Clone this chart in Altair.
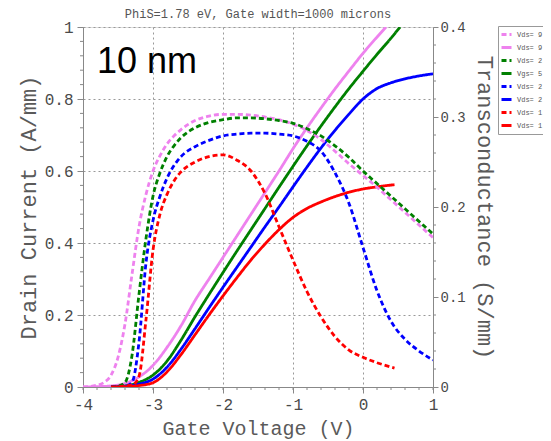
import altair as alt
import pandas as pd

# ---------------- data ----------------
# Drain current (left axis, A/mm) - solid lines
VG_ID_VIOLET = [-4.0, -3.8, -3.6, -3.4, -3.2, -3.0, -2.8, -2.6, -2.4, -2.2, -2.0, -1.8, -1.6, -1.4,
                -1.2, -1.0, -0.8, -0.6, -0.4, -0.2, 0.0, 0.2, 0.33]
ID_VIOLET = [0.0, 0.001, 0.003, 0.01, 0.028, 0.06, 0.11, 0.17, 0.24, 0.30, 0.36, 0.42, 0.48, 0.54,
             0.60, 0.662, 0.72, 0.775, 0.828, 0.878, 0.927, 0.972, 1.0]

VG_ID_GREEN = [-3.6, -3.4, -3.2, -3.0, -2.8, -2.6, -2.4, -2.2, -2.0, -1.8, -1.6, -1.4, -1.2, -1.0,
               -0.8, -0.6, -0.4, -0.2, 0.0, 0.2, 0.4, 0.53]
ID_GREEN = [0.0, 0.003, 0.013, 0.033, 0.072, 0.13, 0.195, 0.257, 0.318, 0.378, 0.437, 0.496, 0.555,
            0.613, 0.67, 0.725, 0.778, 0.829, 0.877, 0.924, 0.969, 1.0]

VG_ID_BLUE = [-3.6, -3.4, -3.2, -3.0, -2.8, -2.6, -2.4, -2.2, -2.0, -1.8, -1.6, -1.4, -1.2, -1.0,
              -0.8, -0.6, -0.4, -0.2, 0.0, 0.2, 0.4, 0.6, 0.8, 1.0]
ID_BLUE = [0.0, 0.002, 0.008, 0.022, 0.055, 0.105, 0.162, 0.22, 0.277, 0.333, 0.389, 0.445, 0.50,
           0.556, 0.611, 0.664, 0.713, 0.758, 0.80, 0.829, 0.845, 0.856, 0.864, 0.87]

VG_ID_RED = [-3.6, -3.4, -3.2, -3.0, -2.8, -2.6, -2.4, -2.2, -2.0, -1.8, -1.6, -1.4, -1.2, -1.0,
             -0.8, -0.6, -0.4, -0.2, 0.0, 0.2, 0.45]
ID_RED = [0.0, 0.001, 0.004, 0.012, 0.042, 0.09, 0.145, 0.2, 0.253, 0.304, 0.353, 0.397, 0.437,
          0.471, 0.496, 0.514, 0.529, 0.541, 0.55, 0.556, 0.562]

# Transconductance (right axis, S/mm) - dashed lines
VG_GM_VIOLET = [-4.0, -3.8, -3.7, -3.6, -3.5, -3.4, -3.3, -3.2, -3.1, -3.0, -2.9, -2.8, -2.7, -2.6,
                -2.4, -2.2, -2.0, -1.8, -1.6, -1.4, -1.2, -1.0, -0.8, -0.6, -0.4, -0.2, 0.0, 0.2,
                0.4, 0.6, 0.8, 1.0]
GM_VIOLET = [0.0, 0.002, 0.005, 0.013, 0.033, 0.07, 0.125, 0.178, 0.214, 0.24, 0.257, 0.27, 0.279,
             0.286, 0.296, 0.301, 0.303, 0.303, 0.302, 0.3, 0.297, 0.292, 0.285, 0.275, 0.262,
             0.248, 0.235, 0.222, 0.208, 0.194, 0.18, 0.166]

VG_GM_GREEN = [-3.6, -3.5, -3.4, -3.3, -3.2, -3.1, -3.0, -2.9, -2.8, -2.7, -2.6, -2.4, -2.2, -2.0,
               -1.8, -1.6, -1.4, -1.2, -1.0, -0.8, -0.6, -0.4, -0.2, 0.0, 0.2, 0.4, 0.6, 0.8, 1.0]
GM_GREEN = [0.0, 0.001, 0.005, 0.035, 0.103, 0.165, 0.212, 0.238, 0.256, 0.268, 0.277, 0.288,
            0.294, 0.297, 0.299, 0.299, 0.298, 0.296, 0.293, 0.287, 0.279, 0.268, 0.255, 0.24,
            0.226, 0.212, 0.198, 0.184, 0.17]

VG_GM_BLUE = [-3.6, -3.4, -3.3, -3.2, -3.1, -3.0, -2.9, -2.8, -2.7, -2.6, -2.4, -2.2, -2.0, -1.8,
              -1.6, -1.4, -1.2, -1.0, -0.8, -0.6, -0.4, -0.2, 0.0, 0.2, 0.4, 0.6, 0.8, 1.0]
GM_BLUE = [0.0, 0.001, 0.005, 0.05, 0.138, 0.185, 0.212, 0.232, 0.246, 0.256, 0.267, 0.274, 0.279,
           0.281, 0.282, 0.282, 0.281, 0.279, 0.273, 0.262, 0.238, 0.204, 0.155, 0.107, 0.073,
           0.053, 0.04, 0.03]

VG_GM_RED = [-3.6, -3.3, -3.2, -3.1, -3.0, -2.9, -2.8, -2.7, -2.6, -2.4, -2.2, -2.0, -1.8, -1.6,
             -1.4, -1.2, -1.0, -0.8, -0.6, -0.4, -0.2, 0.0, 0.2, 0.45]
GM_RED = [0.0, 0.002, 0.012, 0.075, 0.152, 0.192, 0.214, 0.229, 0.239, 0.25, 0.256, 0.258, 0.252,
          0.24, 0.215, 0.178, 0.141, 0.106, 0.078, 0.056, 0.041, 0.033, 0.027, 0.021]

# legend entries (key order = legend order)
SERIES_KEYS = ["1", "2", "3", "4", "5", "6", "7", "8"]
SERIES_LABELS = ["Vds= 9", "Vds= 9", "Vds= 2", "Vgs= 5", "Vds= 2", "Vds= 2", "Vds= 1", "Vds= 1"]
SERIES_COLORS = ["violet", "violet", "green", "green", "blue", "blue", "red", "red"]
SERIES_DASH = [[5, 3], [1, 0], [5, 3], [1, 0], [5, 3], [1, 0], [5, 3], [1, 0]]

# axis ticks
X_TICKS = [-4, -3, -2, -1, 0, 1]
X_MINOR = [-4.0, -3.8, -3.6, -3.4, -3.2, -3.0, -2.8, -2.6, -2.4, -2.2, -2.0, -1.8, -1.6, -1.4,
           -1.2, -1.0, -0.8, -0.6, -0.4, -0.2, 0.0, 0.2, 0.4, 0.6, 0.8, 1.0]
YL_TICKS = [0, 0.2, 0.4, 0.6, 0.8, 1.0]
YL_MINOR = [0.04, 0.08, 0.12, 0.16, 0.24, 0.28, 0.32, 0.36, 0.44, 0.48, 0.52, 0.56, 0.64, 0.68,
            0.72, 0.76, 0.84, 0.88, 0.92, 0.96]
YR_TICKS = [0, 0.1, 0.2, 0.3, 0.4]
YR_MINOR = [0.02, 0.04, 0.06, 0.08, 0.12, 0.14, 0.16, 0.18, 0.22, 0.24, 0.26, 0.28, 0.32, 0.34,
            0.36, 0.38]

TITLE_TEXT = "PhiS=1.78 eV, Gate width=1000 microns"
LABEL_TEXT = "10 nm"

# ---------------- tables ----------------
def frame(xs, ys, key, col):
    return pd.DataFrame({"Vg": xs, col: ys, "s": key})

solid_df = pd.concat([
    frame(VG_ID_VIOLET, ID_VIOLET, "2", "Id"),
    frame(VG_ID_GREEN, ID_GREEN, "4", "Id"),
    frame(VG_ID_BLUE, ID_BLUE, "6", "Id"),
    frame(VG_ID_RED, ID_RED, "8", "Id"),
], ignore_index=True)

dashed_df = pd.concat([
    frame(VG_GM_VIOLET, GM_VIOLET, "1", "gm"),
    frame(VG_GM_GREEN, GM_GREEN, "3", "gm"),
    frame(VG_GM_BLUE, GM_BLUE, "5", "gm"),
    frame(VG_GM_RED, GM_RED, "7", "gm"),
], ignore_index=True)

W, H = 350, 360
MONO = "Liberation Mono"
AX_COL = "#888888"

x_scale = alt.Scale(domain=[-4, 1], nice=False, zero=False)
yl_scale = alt.Scale(domain=[0, 1], nice=False, zero=False)
yr_scale = alt.Scale(domain=[0, 0.4], nice=False, zero=False)

label_expr = "[" + ",".join("'%s'" % s for s in SERIES_LABELS) + "][toNumber(datum.label) - 1]"
legend = alt.Legend(title=None, orient="none", legendX=415, legendY=-1,
                    symbolType="stroke", symbolSize=100, symbolStrokeWidth=3,
                    labelFont=MONO, labelFontSize=7, labelColor="#555555",
                    strokeColor="#999999", fillColor="white", padding=2,
                    rowPadding=0, labelOffset=4, labelExpr=label_expr)
color_enc = alt.Color("s:N", scale=alt.Scale(domain=SERIES_KEYS, range=SERIES_COLORS), legend=legend)
dash_enc = alt.StrokeDash("s:N", scale=alt.Scale(domain=SERIES_KEYS, range=SERIES_DASH), legend=legend)

common_axis = dict(labelFont=MONO, labelFontSize=16, labelColor="#4a4a4a", titleFont=MONO,
                   titleColor="#5a5a5a", titleFontWeight="normal", domainColor=AX_COL,
                   tickColor=AX_COL, labelFlush=False, labelOverlap=False, gridColor="#999999",
                   gridDash=[2, 3], gridOpacity=1)

x_axis = alt.Axis(values=X_TICKS, title="Gate Voltage (V)", titleFontSize=20, titlePadding=6,
                  tickSize=6, labelPadding=3, grid=True,
                  labelExpr="datum.value < 0 ? '-' + abs(datum.value) : '' + datum.value",
                  **common_axis)
yl_axis = alt.Axis(values=YL_TICKS, title="Drain Current (A/mm)", titleFontSize=22,
                   titlePadding=4, tickSize=6, labelPadding=4, grid=True, orient="left",
                   labelExpr="datum.value == 0 ? '0' : datum.value == 1 ? '1' : format(datum.value, '.1f')",
                   **common_axis)
yr_common = dict(common_axis)
yr_common["labelFontSize"] = 14
yr_axis = alt.Axis(values=YR_TICKS, title="Transconductance (S/mm)", titleFontSize=22,
                   titlePadding=7, tickSize=5, labelPadding=2, grid=False, orient="right",
                   labelExpr="datum.value == 0 ? '0' : format(datum.value, '.1f')",
                   **yr_common)

solid = alt.Chart(solid_df).mark_line(strokeWidth=2.8, interpolate="monotone", clip=True).encode(
    x=alt.X("Vg:Q", scale=x_scale, axis=x_axis),
    y=alt.Y("Id:Q", scale=yl_scale, axis=yl_axis),
    color=color_enc, strokeDash=dash_enc, detail="s:N",
)

dashed = alt.Chart(dashed_df).mark_line(strokeWidth=2.8, interpolate="monotone", clip=True).encode(
    x=alt.X("Vg:Q", scale=x_scale, axis=x_axis),
    y=alt.Y("gm:Q", scale=yr_scale, axis=yr_axis),
    color=color_enc, strokeDash=dash_enc, detail="s:N",
)

# minor ticks (same fields / scales / axes as the curves, so the axes merge)
x_minor = alt.Chart(pd.DataFrame({"Vg": X_MINOR})).mark_rule(color=AX_COL, strokeWidth=1).encode(
    x=alt.X("Vg:Q", scale=x_scale, axis=x_axis), y=alt.value(H), y2=alt.value(H + 3))
yl_minor = alt.Chart(pd.DataFrame({"Id": YL_MINOR})).mark_rule(color=AX_COL, strokeWidth=1).encode(
    y=alt.Y("Id:Q", scale=yl_scale, axis=yl_axis), x=alt.value(0), x2=alt.value(-3))
yr_minor = alt.Chart(pd.DataFrame({"gm": YR_MINOR})).mark_rule(color=AX_COL, strokeWidth=1).encode(
    y=alt.Y("gm:Q", scale=yr_scale, axis=yr_axis), x=alt.value(W), x2=alt.value(W + 3))

top_title = alt.Chart(pd.DataFrame({"t": [TITLE_TEXT]})).mark_text(
    font=MONO, fontSize=12, color="#555555", align="center", baseline="alphabetic").encode(
    text="t:N", x=alt.value(W / 2), y=alt.value(-9))
big_label = alt.Chart(pd.DataFrame({"t": [LABEL_TEXT]})).mark_text(
    font="Liberation Sans", fontSize=36, color="black", align="left", baseline="alphabetic").encode(
    text="t:N", x=alt.value(14), y=alt.value(46))

left_layer = alt.layer(solid, x_minor, yl_minor, top_title, big_label)
right_layer = alt.layer(dashed, yr_minor)

chart = alt.layer(left_layer, right_layer).resolve_scale(y="independent").properties(
    width=W, height=H,
    autosize=alt.AutoSizeParams(type="none"),
    padding={"left": 75, "top": 19, "right": 110, "bottom": 54},
).configure_view(stroke=None).configure(background="white")

chart.save("out.html", embed_options={"renderer": "svg", "actions": False})
